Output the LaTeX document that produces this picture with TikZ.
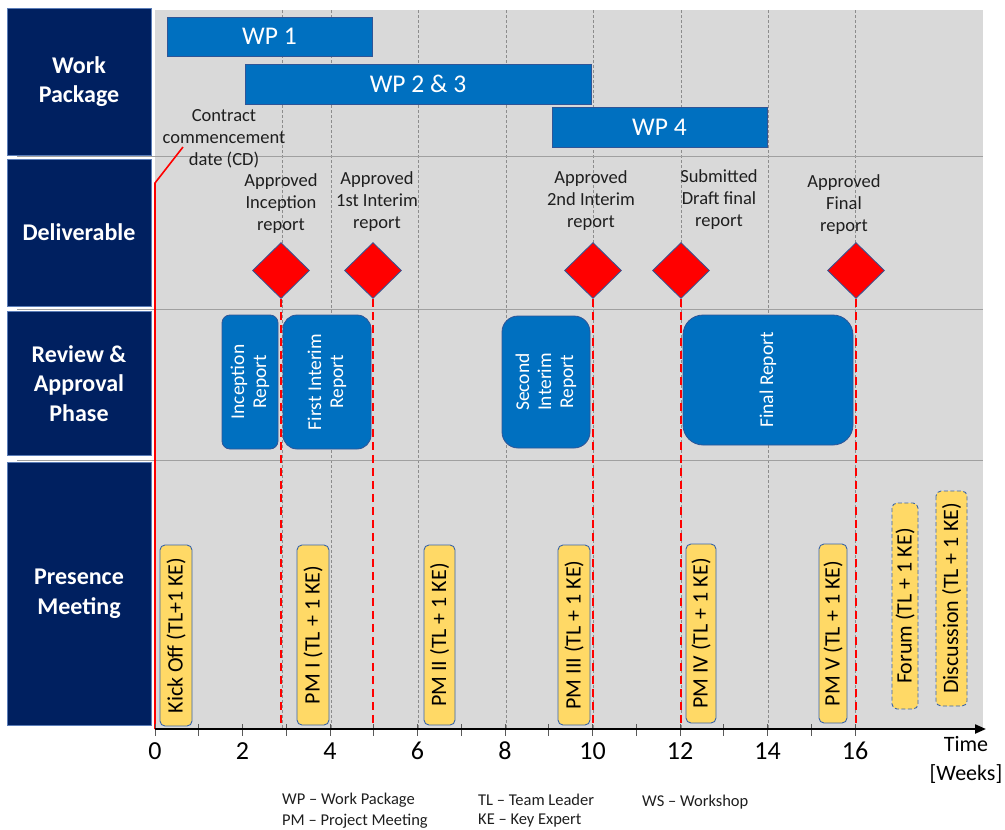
\documentclass[tikz,border=0pt]{standalone}
\usepackage{fontspec}
\setmainfont{Carlito}
\usetikzlibrary{shapes.geometric,arrows.meta}
\definecolor{navy}{HTML}{002060}
\definecolor{navyedge}{HTML}{5B7DB8}
\definecolor{wpblue}{HTML}{0070C0}
\definecolor{edgeblue}{HTML}{2F5597}
\definecolor{bggray}{HTML}{D9D9D9}
\definecolor{sepgray}{HTML}{A0A0A0}
\definecolor{gridgray}{HTML}{8C8C8C}
\definecolor{meetfill}{HTML}{FFD966}
\definecolor{meetedge}{HTML}{3A64A8}
\newcommand\fsz[2]{\fontsize{#1pt}{#2pt}\selectfont}
\begin{document}
\begin{tikzpicture}[x=1pt,y=-1pt,
  navybox/.style={draw=navyedge, line width=0.8pt, fill=navy, text=white,
    font=\bfseries\fsz{24}{29.5}, align=center, inner sep=0pt},
  wpbar/.style={draw=edgeblue, line width=0.8pt, fill=wpblue, text=white,
    font=\fsz{25.5}{30}, inner sep=0pt},
  deliv/.style={diamond, draw=edgeblue, line width=0.8pt, fill=red,
    minimum width=57pt, minimum height=56pt, inner sep=0pt},
  dlabel/.style={font=\fsz{18.5}{22}, align=center, text=black!88, inner sep=0pt},
  revbox/.style={draw=edgeblue, line width=0.8pt, fill=wpblue, text=white,
    font=\fsz{19.5}{22}, align=center, rotate=90, inner sep=0pt},
  meet/.style={draw=meetedge, line width=0.9pt, fill=meetfill, text=black,
    font=\fsz{22}{24}, rounded corners=5pt, rotate=90, inner sep=0pt},
  meetd/.style={meet, dash pattern=on 4pt off 2.5pt},
  milestone/.style={red, line width=2pt, dash pattern=on 8pt off 5pt},
  gridline/.style={gridgray, line width=0.6pt, dash pattern=on 3pt off 2pt},
  sepline/.style={sepgray, line width=1pt},
  ticklab/.style={font=\fsz{26}{30}, inner sep=0pt},
  legend/.style={font=\fsz{16.5}{20}, anchor=west, inner sep=0pt, text=black!88}
]
\useasboundingbox (0,0) rectangle (1005,830);

% background panel
\fill[bggray] (155,10) rectangle (983,728);

% vertical grid
\foreach \xx in {282,331,418,506,593,681,768,855}
  \draw[gridline] (\xx,10) -- (\xx,728);

% row separators
\foreach \yy in {156,309,460}
  \draw[sepline] (17,\yy) -- (983,\yy);

% left labels
\node[navybox, minimum width=144pt, minimum height=147pt] (lwp) at (79,81.5) {Work\\Package};
\node[navybox, minimum width=144pt, minimum height=147pt] (ldel) at (79,232.5) {Deliverable};
\node[navybox, minimum width=144pt, minimum height=144pt] (lrev) at (79,383.5) {Review \&\\Approval\\Phase};
\node[navybox, minimum width=144pt, minimum height=263pt] (lpm) at (79,593.5) {Presence\\Meeting};

% work packages
\node[wpbar, minimum width=205pt, minimum height=39pt] (wp1) at (269.5,36.5) {WP 1};
\node[wpbar, minimum width=346pt, minimum height=40pt] (wp23) at (418,84) {WP 2 \& 3};
\node[wpbar, minimum width=215pt, minimum height=40pt] (wp4) at (659.5,127) {WP 4};

% contract commencement
\node[dlabel] (cd) at (224,139) {Contract\\commencement\\date (CD)};

% deliverable labels
\node[dlabel] (l1) at (281,204) {Approved\\Inception\\report};
\node[dlabel] (l2) at (377,202) {Approved\\1st Interim\\report};
\node[dlabel] (l3) at (591,201) {Approved\\2nd Interim\\report};
\node[dlabel] (l4) at (719,200) {Submitted\\Draft final\\report};
\node[dlabel] (l5) at (844,205) {Approved\\Final\\report};

% review boxes
\node[revbox, rounded corners=8pt, minimum width=134pt, minimum height=56pt] (r1) at (250,382) {Inception\\Report};
\node[revbox, rounded corners=14pt, minimum width=134pt, minimum height=88pt] (r2) at (327,382) {First Interim\\Report};
\node[revbox, rounded corners=16pt, minimum width=132pt, minimum height=88pt] (r3) at (546,382) {Second\\Interim\\Report};
\node[revbox, rounded corners=20pt, minimum width=130pt, minimum height=170pt] (r4) at (768,380) {Final Report};

% meetings
\node[meet, minimum width=181pt, minimum height=32pt] (m0) at (176,635.5) {Kick Off (TL+1 KE)};
\node[meet, minimum width=180pt, minimum height=32pt] (m1) at (313,635) {PM I (TL + 1 KE)};
\node[meet, minimum width=180pt, minimum height=31pt] (m2) at (439.5,635) {PM II (TL + 1 KE)};
\node[meet, minimum width=180pt, minimum height=32pt] (m3) at (574,635) {PM III (TL + 1 KE)};
\node[meet, minimum width=179pt, minimum height=30pt] (m4) at (701,633.5) {PM IV (TL + 1 KE)};
\node[meet, minimum width=179pt, minimum height=28pt] (m5) at (833,633.5) {PM V (TL + 1 KE)};
\node[meetd, minimum width=206pt, minimum height=26pt] (mf) at (905,606) {Forum (TL + 1 KE)};
\node[meetd, minimum width=215pt, minimum height=31pt] (md) at (951.5,598.5) {Discussion (TL + 1 KE)};

% diamonds
\node[deliv] (d1) at (281,270.5) {};
\node[deliv] (d2) at (373,270.5) {};
\node[deliv] (d3) at (593,270.5) {};
\node[deliv] (d4) at (681,270.5) {};
\node[deliv] (d5) at (856,270.5) {};

% axis coordinates
\coordinate (o) at (155,729);
\coordinate (axend) at (986,729);
\coordinate (a1) at (281,728);
\coordinate (a2) at (373,728);
\coordinate (a3) at (593,728);
\coordinate (a4) at (681,728);
\coordinate (a5) at (856,728);

% milestone lines
\draw[milestone] (d1.south) -- (a1);
\draw[milestone] (d2.south) -- (a2);
\draw[milestone] (d3.south) -- (a3);
\draw[milestone] (d4.south) -- (a4);
\draw[milestone] (d5.south) -- (a5);

% contract commencement line
\coordinate (cdb) at (155,183);
\coordinate (cdt) at (183,147);
\draw[red, line width=1.6pt] (o) -- (cdb) -- (cdt);

% axis
\foreach \k in {0,...,16}
  \draw[black!65, line width=0.8pt] ({155+43.75*\k},724) -- ({155+43.75*\k},736);
\draw[black, line width=2.2pt, -{Triangle[length=11pt,width=9pt]}] (o) -- (axend);
\foreach \k in {0,2,...,16}
  \node[ticklab] (t\k) at ({155+43.75*\k},751) {\k};
\node[font=\fsz{22}{29}, align=center, inner sep=0pt] (time) at (966,760) {Time\\{[}Weeks]};

% legend
\node[legend] (lg1) at (282,800) {WP – Work Package};
\node[legend] (lg2) at (282,821) {PM – Project Meeting};
\node[legend] (lg3) at (478,800) {TL – Team Leader};
\node[legend] (lg4) at (478,821) {KE – Key Expert};
\node[legend] (lg5) at (642,802) {WS – Workshop};
\end{tikzpicture}
\end{document}
